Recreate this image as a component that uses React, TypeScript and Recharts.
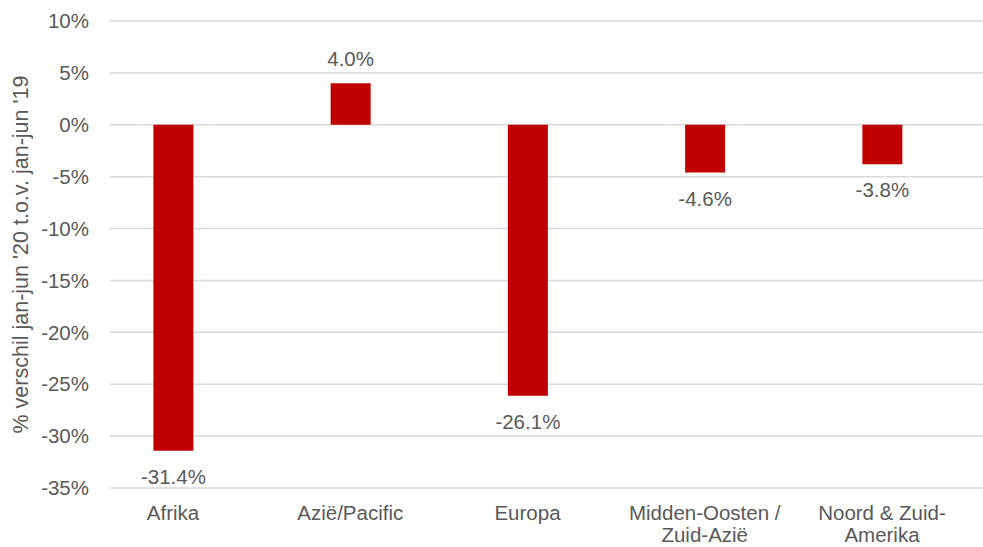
import { BarChart, Bar, XAxis, YAxis, CartesianGrid, LabelList } from "recharts";

const categories = ["Afrika", "Azië/Pacific", "Europa", "Midden-Oosten / Zuid-Azië", "Noord & Zuid-Amerika"];
const categoryLines = [["Afrika"], ["Azië/Pacific"], ["Europa"], ["Midden-Oosten /", "Zuid-Azië"], ["Noord & Zuid-", "Amerika"]];
const values = [-31.4, 4.0, -26.1, -4.6, -3.8];
const yTicks = [-35, -30, -25, -20, -15, -10, -5, 0, 5, 10];

const data = categories.map((name, i) => ({ name, value: values[i] }));

const FONT = "'Liberation Sans', Arial, sans-serif";
const TEXT = "#595959";
const FS = 20.5;

const XTick = ({ x, y, payload }: any) => {
  const idx = categories.indexOf(payload.value);
  const lines = categoryLines[idx] || [payload.value];
  return (
    <text x={x} y={y} textAnchor="middle" fill={TEXT} fontSize={FS} fontFamily={FONT}>
      {lines.map((l, i) => (
        <tspan key={i} x={x} dy={i === 0 ? 30 : 22}>{l}</tspan>
      ))}
    </text>
  );
};

const ValueLabel = ({ x, y, width, height, value }: any) => {
  const top = Math.min(y, y + height);
  const bottom = Math.max(y, y + height);
  const cx = x + width / 2;
  const ty = value >= 0 ? top - 17 : bottom + 33;
  return (
    <text x={cx} y={ty} textAnchor="middle" fill={TEXT} fontSize={FS} fontFamily={FONT}>
      {value.toFixed(1)}%
    </text>
  );
};

const YLabel = ({ viewBox }: any) => {
  const cy = viewBox.y + viewBox.height / 2;
  return (
    <text
      x={21}
      y={cy}
      transform={`rotate(-90, 21, ${cy})`}
      textAnchor="middle"
      dominantBaseline="central"
      fill={TEXT}
      fontSize={21.5}
      fontFamily={FONT}
    >
      % verschil jan-jun '20 t.o.v. jan-jun '19
    </text>
  );
};

export default function App() {
  return (
    <div style={{ position: "absolute", left: 0, top: 0, width: 983, height: 547, background: "#fff" }}>
      <BarChart width={983} height={547} data={data} margin={{ top: 21, right: 0, bottom: 0, left: 0 }}>
        <CartesianGrid vertical={false} stroke="#D9D9D9" strokeWidth={1.5} />
        <XAxis
          dataKey="name"
          height={59}
          axisLine={false}
          tickLine={false}
          tickSize={0}
          padding={{ left: -25.6, right: 12.4 }}
          interval={0}
          tick={<XTick />}
        />
        <YAxis
          width={110}
          domain={[-35, 10]}
          ticks={yTicks}
          axisLine={false}
          tickLine={false}
          tickSize={0}
          tickMargin={21}
          tickFormatter={(v: number) => `${v}%`}
          tick={{ fill: TEXT, fontSize: FS, fontFamily: FONT }}
          label={<YLabel />}
        />
        <Bar dataKey="value" fill="#C00000" barSize={40} isAnimationActive={false}>
          <LabelList dataKey="value" content={<ValueLabel />} />
        </Bar>
      </BarChart>
    </div>
  );
}
